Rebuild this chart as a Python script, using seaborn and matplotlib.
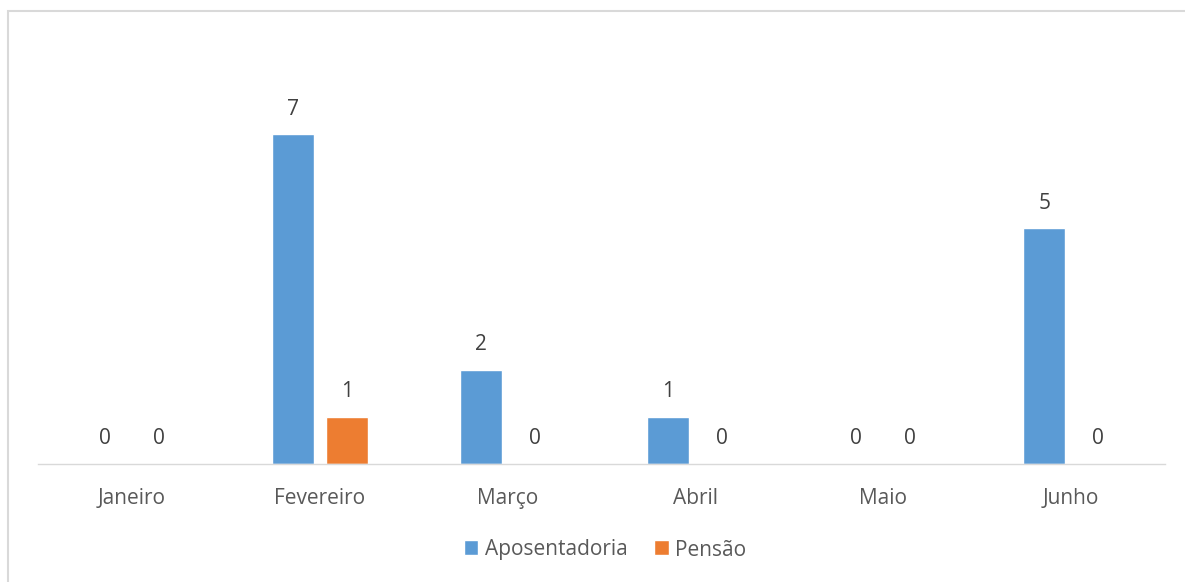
import matplotlib
matplotlib.use("Agg")
import matplotlib.pyplot as plt
import pandas as pd
import seaborn as sns
from matplotlib.patches import Rectangle

# data
meses = ["Janeiro", "Fevereiro", "Março", "Abril", "Maio", "Junho"]
aposentadoria = [0, 7, 2, 1, 0, 5]
pensao = [0, 1, 0, 0, 0, 0]
series = ["Aposentadoria", "Pensão"]
cores = ["#5B9BD5", "#ED7D31"]

df = pd.DataFrame({
    "Mês": meses * 2,
    "Tipo": [series[0]] * len(meses) + [series[1]] * len(meses),
    "Valor": aposentadoria + pensao,
})

sns.set_style("white")
plt.rcParams["font.family"] = ["Open Sans", "DejaVu Sans"]
texto = "#595959"
fs = 15

fig = plt.figure(figsize=(11.85, 5.82), dpi=100)
ax = fig.add_axes([38 / 1185, 1 - 464 / 582, 1127 / 1185, 377 / 582])

sns.barplot(data=df, x="Mês", y="Valor", hue="Tipo", order=meses,
            hue_order=series, palette=cores, width=0.574, gap=0.22,
            saturation=1, ax=ax, legend=True)

for cont in ax.containers:
    ax.bar_label(cont, fmt="%d", padding=10.5, fontsize=fs, color="#404040")

ax.set_xlim(-0.5, 5.5)
ax.set_ylim(0, 8)
ax.set_xlabel("")
ax.set_ylabel("")
ax.set_yticks([])
ax.tick_params(axis="x", length=0, pad=17, labelsize=fs, labelcolor=texto)
for s in ["top", "right", "left"]:
    ax.spines[s].set_visible(False)
ax.spines["bottom"].set_color("#D9D9D9")
ax.spines["bottom"].set_linewidth(1)

handles, labels = ax.get_legend_handles_labels()
ax.get_legend().remove()
leg = fig.legend(handles, labels, loc="center", bbox_to_anchor=(605 / 1185, 1 - 549 / 582),
                 ncol=2, frameon=False, fontsize=fs, labelcolor=texto,
                 handlelength=0.7, handleheight=0.7, handletextpad=0.3, columnspacing=1.3)
# "Pensão" sits a little high next to its marker; nudge it down
leg.get_texts()[1].set_y(-2)

fig.patches.append(Rectangle((7.5 / 1185, -0.1), 1.2, 1 - 10.5 / 582 + 0.1,
                             transform=fig.transFigure, fill=False,
                             edgecolor="#D9D9D9", linewidth=1.5))

fig.savefig("out.png", dpi=100)
